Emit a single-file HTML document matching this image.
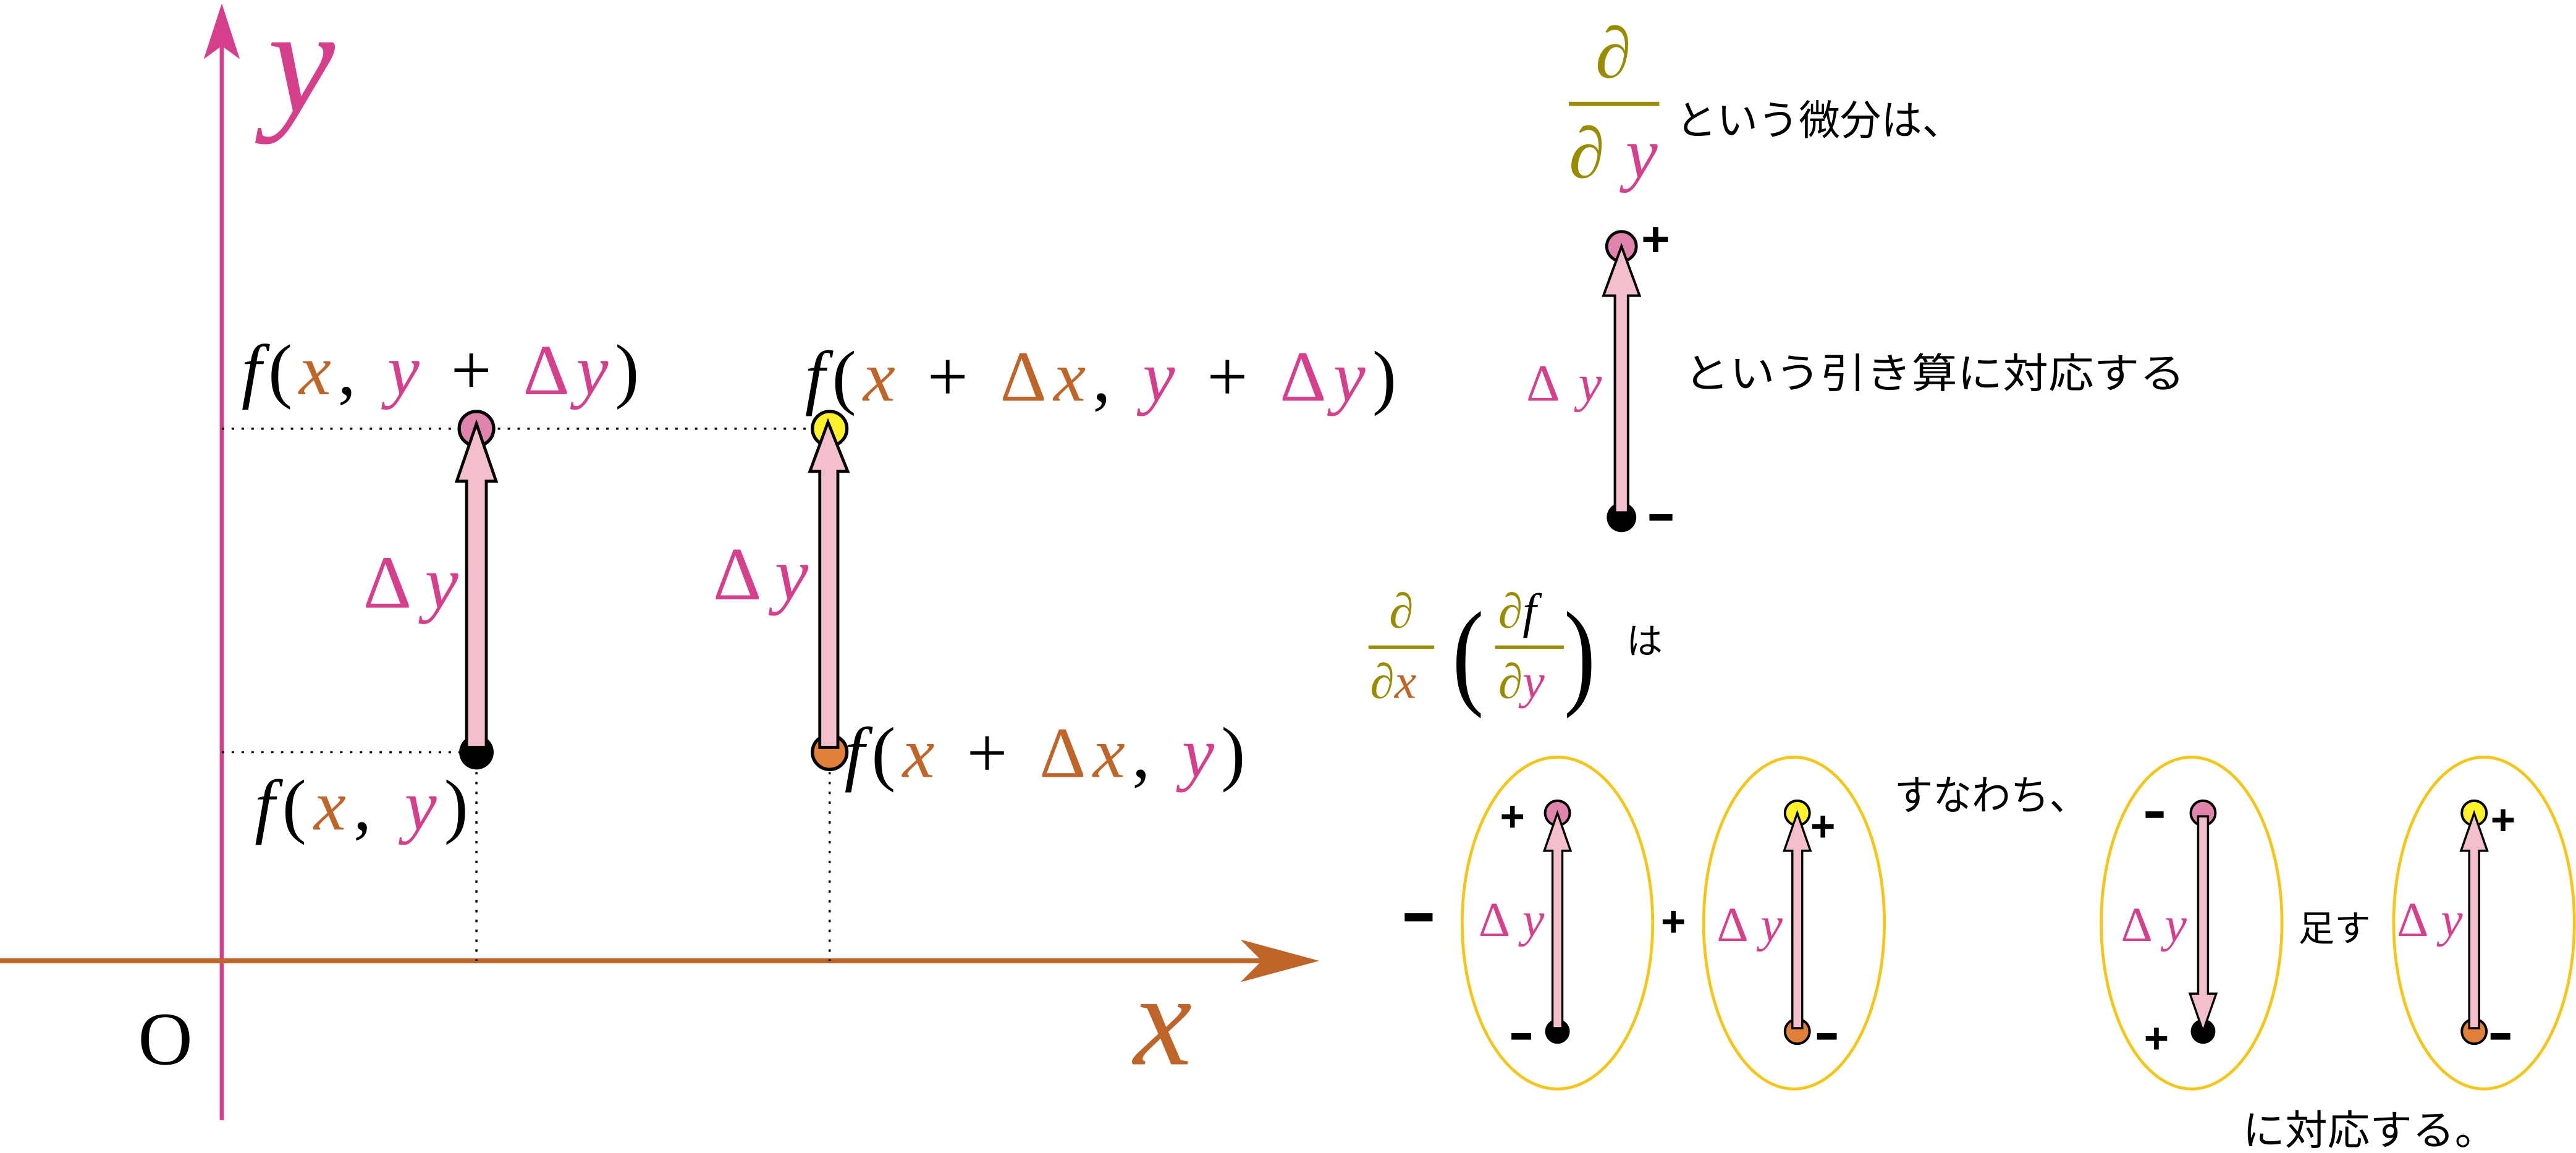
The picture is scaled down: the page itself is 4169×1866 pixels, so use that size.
<!DOCTYPE html>
<html><head><meta charset="utf-8"><style>
html,body{margin:0;padding:0;background:#fff;}
svg{display:block;}
.m{font-family:"Liberation Serif",serif;font-style:italic;}
.r{font-family:"Liberation Serif",serif;font-style:normal;}
.j{font-family:"Liberation Sans","Noto Sans CJK JP",sans-serif;fill:#000;}
.b{font-family:"Liberation Sans",sans-serif;font-weight:bold;fill:#000;}
</style></head><body>
<svg width="4169" height="1866" viewBox="0 0 1568 702" preserveAspectRatio="none" xmlns="http://www.w3.org/2000/svg">
<defs>
<style>
.mg{fill:#d63f8c}.or{fill:#c0652a}.ol{fill:#9a8c00}.bk{fill:#000}
</style>
</defs>
<!-- axes -->
<line x1="135" y1="682" x2="135" y2="25" stroke="#d63f8c" stroke-width="2.5"/>
<path d="M135 2 L124 36 L135 28 L146 36 Z" fill="#d63f8c"/>
<line x1="0" y1="585" x2="780" y2="585" stroke="#c0652a" stroke-width="3"/>
<path d="M803 585 L755 572 L768 585 L755 598 Z" fill="#c0652a"/>
<text x="163" y="68" class="m mg" font-size="92">y</text>
<text x="690" y="648" class="m or" font-size="80">x</text>
<text x="84" y="648" class="r" font-size="46">O</text>
<!-- dotted -->
<g stroke="#000" stroke-width="1.3" stroke-dasharray="1.5 4.5" fill="none">
<line x1="135" y1="261" x2="500" y2="261"/>
<line x1="135" y1="458" x2="290" y2="458"/>
<line x1="290" y1="458" x2="290" y2="585"/>
<line x1="505" y1="458" x2="505" y2="585"/>
</g>
<!-- points & arrows left -->
<circle cx="290" cy="261" r="10.5" fill="#e083ad" stroke="#000" stroke-width="2"/>
<circle cx="290" cy="458" r="10.5" fill="#000"/>
<polygon points="284,455 284,293 278,293 290,258 302,293 296,293 296,455" fill="#f4bfcd" stroke="#000" stroke-width="1.8"/>
<circle cx="505" cy="261" r="10.5" fill="#fff22a" stroke="#000" stroke-width="2"/>
<circle cx="505" cy="458" r="10.5" fill="#e0803a" stroke="#000" stroke-width="2"/>
<polygon points="499,455 499,287 493,287 504,257 516,287 510,287 510,455" fill="#f4bfcd" stroke="#000" stroke-width="1.8"/>
<!-- labels -->
<text x="147" y="240" class="m" font-size="44" textLength="242" lengthAdjust="spacing">f<tspan class="r">(</tspan><tspan class="or">x</tspan><tspan class="r">, </tspan><tspan class="mg">y</tspan><tspan class="r"> + </tspan><tspan class="r mg">Δ</tspan><tspan class="mg">y</tspan><tspan class="r">)</tspan></text>
<text x="490" y="244" class="m" font-size="44" textLength="360" lengthAdjust="spacing">f<tspan class="r">(</tspan><tspan class="or">x</tspan><tspan class="r"> + </tspan><tspan class="r or">Δ</tspan><tspan class="or">x</tspan><tspan class="r">, </tspan><tspan class="mg">y</tspan><tspan class="r"> + </tspan><tspan class="r mg">Δ</tspan><tspan class="mg">y</tspan><tspan class="r">)</tspan></text>
<text x="221" y="370" class="m mg" font-size="46" textLength="58" lengthAdjust="spacing"><tspan class="r">Δ</tspan>y</text>
<text x="434" y="365" class="m mg" font-size="46" textLength="58" lengthAdjust="spacing"><tspan class="r">Δ</tspan>y</text>
<text x="514" y="473" class="m" font-size="44" textLength="244" lengthAdjust="spacing">f<tspan class="r">(</tspan><tspan class="or">x</tspan><tspan class="r"> + </tspan><tspan class="r or">Δ</tspan><tspan class="or">x</tspan><tspan class="r">, </tspan><tspan class="mg">y</tspan><tspan class="r">)</tspan></text>
<text x="155" y="505" class="m" font-size="44" textLength="130" lengthAdjust="spacing">f<tspan class="r">(</tspan><tspan class="or">x</tspan><tspan class="r">, </tspan><tspan class="mg">y</tspan><tspan class="r">)</tspan></text>
<!-- right top -->
<text x="982" y="47" class="m ol" font-size="44" text-anchor="middle">∂</text>
<rect x="955" y="62" width="55" height="2.5" fill="#9a8c00"/>
<text x="955" y="108" class="m ol" font-size="44" textLength="54" lengthAdjust="spacing">∂<tspan class="mg">y</tspan></text>
<text x="1020" y="82" class="j" font-size="25" textLength="175" lengthAdjust="spacingAndGlyphs">という微分は、</text>
<circle cx="987" cy="150" r="9" fill="#e083ad" stroke="#000" stroke-width="1.8"/>
<circle cx="987" cy="315" r="9" fill="#000"/>
<polygon points="983,312 983,180 976,180 987,150 998,180 991,180 991,312" fill="#f4bfcd" stroke="#000" stroke-width="1.5"/>
<text x="999" y="156" class="b" font-size="30">+</text>
<rect x="1004" y="313" width="14" height="4" fill="#000"/>
<text x="929" y="244" class="m mg" font-size="32" textLength="46" lengthAdjust="spacing"><tspan class="r">Δ</tspan>y</text>
<text x="1025" y="236" class="j" font-size="25" textLength="305" lengthAdjust="spacingAndGlyphs">という引き算に対応する</text>
<!-- d/dx(df/dy) -->
<text x="853" y="382" class="m ol" font-size="30" text-anchor="middle">∂</text>
<rect x="833" y="393" width="40" height="2" fill="#9a8c00"/>
<text x="834" y="425" class="m ol" font-size="30">∂<tspan class="or">x</tspan></text>
<text x="884" y="422" class="r" font-size="72" transform="scale(0.8 1)" style="transform-origin:884px 422px">(</text>
<text x="912" y="382" class="m ol" font-size="30">∂<tspan fill="#000">f</tspan></text>
<rect x="910" y="393" width="42" height="2" fill="#9a8c00"/>
<text x="912" y="425" class="m ol" font-size="30">∂<tspan class="mg">y</tspan></text>
<text x="952" y="422" class="r" font-size="72" transform="scale(0.8 1)" style="transform-origin:952px 422px">)</text>
<text x="990" y="398" class="j" font-size="22">は</text>
<!-- ellipses -->
<g fill="none" stroke="#f5c518" stroke-width="1.8">
<ellipse cx="948" cy="562" rx="58" ry="101"/>
<ellipse cx="1092" cy="562" rx="55" ry="101"/>
<ellipse cx="1334" cy="562" rx="55" ry="101"/>
<ellipse cx="1512" cy="562" rx="55" ry="101"/>
</g>
<!-- ellipse 1 -->
<circle cx="948" cy="495" r="7.5" fill="#e083ad" stroke="#000" stroke-width="1.5"/>
<circle cx="948" cy="628" r="7.5" fill="#000"/>
<polygon points="945,626 945,518 940,518 948,495 956,518 951,518 951,626" fill="#f4bfcd" stroke="#000" stroke-width="1.3"/>
<text x="913" y="506" class="b" font-size="26">+</text>
<rect x="920" y="629" width="12" height="4" fill="#000"/>
<text x="900" y="570" class="m mg" font-size="30" textLength="40" lengthAdjust="spacing"><tspan class="r">Δ</tspan>y</text>
<rect x="855" y="556" width="17" height="5" fill="#000"/>
<text x="1011" y="570" class="b" font-size="26">+</text>
<!-- ellipse 2 -->
<circle cx="1094" cy="495" r="7.5" fill="#fff22a" stroke="#000" stroke-width="1.5"/>
<circle cx="1094" cy="628" r="7.5" fill="#e0803a" stroke="#000" stroke-width="1.5"/>
<polygon points="1091,626 1091,518 1086,518 1094,495 1102,518 1097,518 1097,626" fill="#f4bfcd" stroke="#000" stroke-width="1.3"/>
<text x="1102" y="512" class="b" font-size="26">+</text>
<rect x="1106" y="629" width="12" height="4" fill="#000"/>
<text x="1045" y="573" class="m mg" font-size="30" textLength="40" lengthAdjust="spacing"><tspan class="r">Δ</tspan>y</text>
<text x="1153" y="493" class="j" font-size="25" textLength="118" lengthAdjust="spacingAndGlyphs">すなわち、</text>
<!-- ellipse 3 -->
<circle cx="1341" cy="495" r="7.5" fill="#e083ad" stroke="#000" stroke-width="1.5"/>
<circle cx="1341" cy="628" r="7.5" fill="#000"/>
<polygon points="1338,497 1338,605 1333,605 1341,628 1349,605 1344,605 1344,497" fill="#f4bfcd" stroke="#000" stroke-width="1.3"/>
<rect x="1306" y="494" width="11" height="4" fill="#000"/>
<text x="1305" y="641" class="b" font-size="26">+</text>
<text x="1291" y="573" class="m mg" font-size="30" textLength="40" lengthAdjust="spacing"><tspan class="r">Δ</tspan>y</text>
<text x="1399" y="573" class="j" font-size="22">足す</text>
<!-- ellipse 4 -->
<circle cx="1506" cy="495" r="7.5" fill="#fff22a" stroke="#000" stroke-width="1.5"/>
<circle cx="1506" cy="628" r="7.5" fill="#e0803a" stroke="#000" stroke-width="1.5"/>
<polygon points="1503,626 1503,518 1498,518 1506,495 1514,518 1509,518 1509,626" fill="#f4bfcd" stroke="#000" stroke-width="1.3"/>
<text x="1516" y="508" class="b" font-size="26">+</text>
<rect x="1516" y="629" width="12" height="4" fill="#000"/>
<text x="1459" y="570" class="m mg" font-size="30" textLength="40" lengthAdjust="spacing"><tspan class="r">Δ</tspan>y</text>
<text x="1365" y="697" class="j" font-size="25" textLength="155" lengthAdjust="spacingAndGlyphs">に対応する。</text>
</svg>
</body></html>
